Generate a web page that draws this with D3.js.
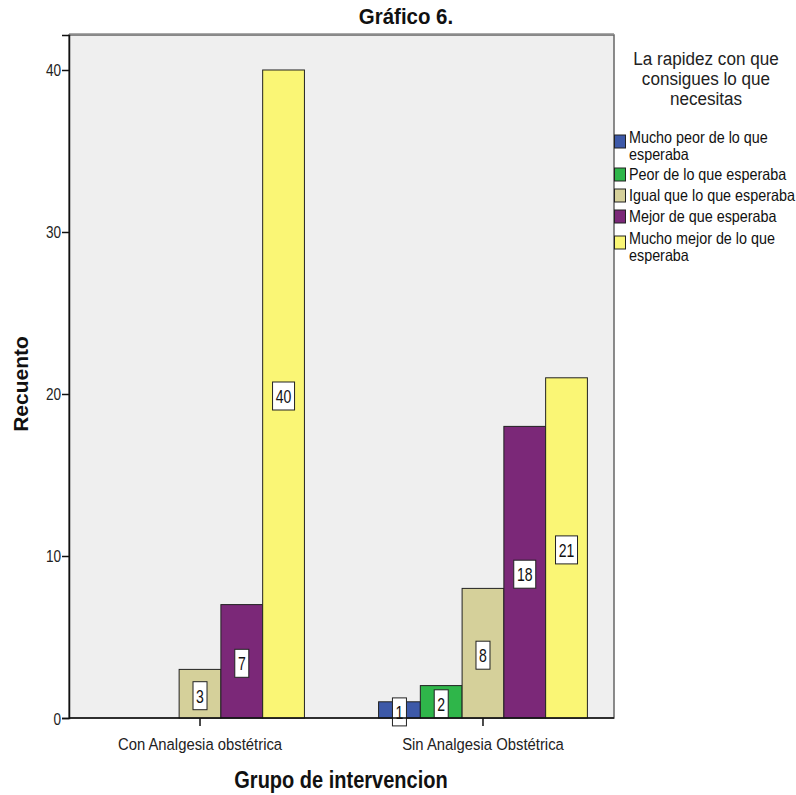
<!DOCTYPE html>
<html><head><meta charset="utf-8">
<script src="https://cdn.jsdelivr.net/npm/d3@7"></script>
<style>
body{margin:0;background:#fff;}
text{font-family:"Liberation Sans",Arial,sans-serif;}
</style></head>
<body><svg id="c" width="796" height="795"></svg>
<script>
const groups = ["Con Analgesia obstétrica", "Sin Analgesia Obstétrica"];
const series = ["Mucho peor de lo que esperaba", "Peor de lo que esperaba", "Igual que lo que esperaba", "Mejor de que esperaba", "Mucho mejor de lo que esperaba"];
const legendLines = [["Mucho peor de lo que", "esperaba"], ["Peor de lo que esperaba"], ["Igual que lo que esperaba"], ["Mejor de que esperaba"], ["Mucho mejor de lo que", "esperaba"]];
const colors = ["#3d59a8", "#2fb64a", "#d5d09a", "#7b2878", "#faf675"];
const valuesCon = [0, 0, 3, 7, 40];
const valuesSin = [1, 2, 8, 18, 21];
const yTicks = [0, 10, 20, 30, 40];
const title = "Gráfico 6.";
const yTitle = "Recuento";
const xTitle = "Grupo de intervencion";
const legendTitle = ["La rapidez con que", "consigues lo que", "necesitas"];

const values = [valuesCon, valuesSin];
const svg = d3.select("#c");
const L = 69, R = 614, T = 35, B = 718;
const SX = 0.86;

function txt(parent, x, y, s, size, anchor, opts = {}) {
  const t = parent.append("text")
    .attr("transform", `translate(${x},${y}) ${opts.rot ? "rotate(" + opts.rot + ")" : ""} scale(${opts.sx || SX},1)`)
    .attr("text-anchor", anchor || "start").attr("font-size", size)
    .attr("fill", opts.fill || "#111").text(s);
  if (opts.bold) t.attr("font-weight", "bold");
  return t;
}

const x = d3.scaleBand().domain(groups).range([L, R]).paddingInner(0.262).paddingOuter(0.094);
const xs = d3.scaleBand().domain(series).range([0, x.bandwidth()]);
const y = d3.scaleLinear().domain([0, 42.16]).range([B, T]);

svg.append("rect").attr("x", L).attr("y", T).attr("width", R - L).attr("height", B - T)
  .attr("fill", "#efefef").attr("stroke", "#666").attr("stroke-width", 1.5);
svg.append("line").attr("x1", L).attr("x2", R).attr("y1", T - 1.5).attr("y2", T - 1.5).attr("stroke", "#aaa").attr("stroke-width", 1);

// bars
groups.forEach((g, gi) => {
  const gg = svg.append("g").attr("transform", `translate(${x(g)},0)`);
  series.forEach((s, si) => {
    const v = values[gi][si];
    if (v <= 0) return;
    gg.append("rect").attr("x", xs(s)).attr("y", y(v)).attr("width", xs.bandwidth()).attr("height", y(0) - y(v))
      .attr("fill", colors[si]).attr("stroke", "#222").attr("stroke-width", 1);
  });
  series.forEach((s, si) => {
    const v = values[gi][si];
    if (v <= 0) return;
    const cx = xs(s) + xs.bandwidth() / 2;
    const cy = (y(v) + y(0)) / 2 + 2;
    const label = String(v);
    const w = label.length > 1 ? 22 : 14;
    const h = 28;
    gg.append("rect").attr("x", cx - w / 2).attr("y", cy - h / 2).attr("width", w).attr("height", h)
      .attr("fill", "#fff").attr("stroke", "#222").attr("stroke-width", 1);
    txt(gg, cx, cy + 7, label, 18, "middle", { sx: 0.78 });
  });
});

// axes
const yAxis = d3.axisLeft(y).tickValues(yTicks).tickSize(7).tickFormat(d3.format("d"));
const ya = svg.append("g").attr("transform", `translate(${L},0)`).call(yAxis);
ya.select(".domain").attr("stroke", "#111").attr("stroke-width", 1.5);
ya.selectAll(".tick line").attr("stroke", "#111").attr("stroke-width", 1.5);
ya.selectAll(".tick text").remove();
ya.selectAll(".tick").each(function (d) {
  txt(d3.select(this), -8, 6, d3.format("d")(d), 17, "end", { sx: 0.8, fill: "#222" });
});

const xAxis = d3.axisBottom(x).tickSize(8).tickSizeOuter(0);
const xa = svg.append("g").attr("transform", `translate(0,${B})`).call(xAxis);
xa.select(".domain").attr("stroke", "#111").attr("stroke-width", 1.5).attr("d", `M${L},0H${R}`);
xa.selectAll(".tick line").attr("stroke", "#111").attr("stroke-width", 1.5);
xa.selectAll(".tick text").remove();
xa.selectAll(".tick").each(function (d) {
  txt(d3.select(this), 0, 32, d, 16.5, "middle", { sx: 0.9, fill: "#222" });
});

// titles
txt(svg, 406, 24, title, 22, "middle", { bold: true, sx: 0.93 });
txt(svg, 28, 384, yTitle, 21, "middle", { bold: true, rot: -90, sx: 1 });
txt(svg, 341, 788, xTitle, 23, "middle", { bold: true, sx: 0.87 });

// legend
const lg = svg.append("g");
legendTitle.forEach((t, i) => {
  txt(lg, 706, 65 + i * 20, t, 19, "middle", { sx: 0.9, fill: "#222" });
});
const itemTops = [129, 166, 187, 208, 230];
legendLines.forEach((lines, i) => {
  const top = itemTops[i];
  const sy = lines.length > 1 ? top + 6 : top + 2;
  lg.append("rect").attr("x", 614.5).attr("y", sy).attr("width", 11).attr("height", 13)
    .attr("fill", colors[i]).attr("stroke", "#222").attr("stroke-width", 1);
  lines.forEach((ln, j) => {
    txt(lg, 629, top + 14 + j * 17, ln, 16.5, "start", { sx: 0.87 });
  });
});
</script></body></html>
